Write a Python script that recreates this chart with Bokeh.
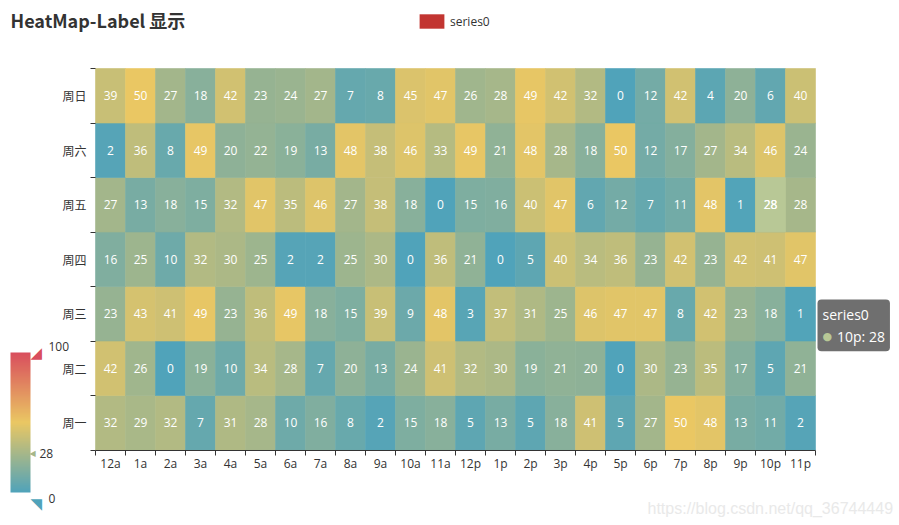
from bokeh.plotting import figure
from bokeh.models import (Range1d, FixedTicker, LinearColorMapper, ColorBar,
                          Label, Legend, LegendItem, ColumnDataSource)
from bokeh.transform import linear_cmap
from bokeh.core.properties import value
from bokeh.embed import file_html
from bokeh.resources import INLINE

# ---------------- data ----------------
hours = ["12a", "1a", "2a", "3a", "4a", "5a", "6a", "7a", "8a", "9a", "10a", "11a",
         "12p", "1p", "2p", "3p", "4p", "5p", "6p", "7p", "8p", "9p", "10p", "11p"]
days = ["周一", "周二", "周三", "周四", "周五", "周六", "周日"]

vals_mon = [32, 29, 32, 7, 31, 28, 10, 16, 8, 2, 15, 18, 5, 13, 5, 18, 41, 5, 27, 50, 48, 13, 11, 2]
vals_tue = [42, 26, 0, 19, 10, 34, 28, 7, 20, 13, 24, 41, 32, 30, 19, 21, 20, 0, 30, 23, 35, 17, 5, 21]
vals_wed = [23, 43, 41, 49, 23, 36, 49, 18, 15, 39, 9, 48, 3, 37, 31, 25, 46, 47, 47, 8, 42, 23, 18, 1]
vals_thu = [16, 25, 10, 32, 30, 25, 2, 2, 25, 30, 0, 36, 21, 0, 5, 40, 34, 36, 23, 42, 23, 42, 41, 47]
vals_fri = [27, 13, 18, 15, 32, 47, 35, 46, 27, 38, 18, 0, 15, 16, 40, 47, 6, 12, 7, 11, 48, 1, 28, 28]
vals_sat = [2, 36, 8, 49, 20, 22, 19, 13, 48, 38, 46, 33, 49, 21, 48, 28, 18, 50, 12, 17, 27, 34, 46, 24]
vals_sun = [39, 50, 27, 18, 42, 23, 24, 27, 7, 8, 45, 47, 26, 28, 49, 42, 32, 0, 12, 42, 4, 20, 6, 40]
rows = [vals_mon, vals_tue, vals_wed, vals_thu, vals_fri, vals_sat, vals_sun]

vmin, vmax = 0, 100
series_name = "series0"
hover_hour, hover_day = "10p", "周五"
watermark = "https://blog.csdn.net/qq_36744449"
title_text = "HeatMap-Label 显示"

# ---------------- styles / layout ----------------
stops = ["#50a3ba", "#eac763", "#d94e5d"]
emph_color = "#b8c896"
legend_color = "#c23531"
axis_color = "#333333"
latin_font = "Open Sans"
cjk_font = "Noto Sans CJK SC"
W, H = 899, 525
GRID_L, GRID_R, GRID_T, GRID_B = 95, 815, 68, 449.5   # pixel box of the heatmap grid


def _rgb(h):
    h = h.lstrip("#")
    return [int(h[i:i + 2], 16) for i in (0, 2, 4)]


def _interp(t):
    t = max(0.0, min(1.0, t)) * (len(stops) - 1)
    seg = min(int(t), len(stops) - 2)
    f = t - seg
    a, b = _rgb(stops[seg]), _rgb(stops[seg + 1])
    return "#%02x%02x%02x" % tuple(round(a[k] + (b[k] - a[k]) * f) for k in range(3))


palette = [_interp(i / 255) for i in range(256)]
mapper = LinearColorMapper(palette=palette, low=vmin, high=vmax)

# ---------------- source ----------------
xs, ys, vs, labels = [], [], [], []
for di, row in enumerate(rows):
    for hi, v in enumerate(row):
        xs.append(hi + 0.5)
        ys.append(di + 0.5)
        vs.append(v)
        labels.append(str(v))
src = ColumnDataSource(dict(x=xs, y=ys, v=vs, label=labels))

hx = hours.index(hover_hour)
hy = days.index(hover_day)
hv = rows[hy][hx]
hsrc = ColumnDataSource(dict(x=[hx + 0.5], y=[hy + 0.5], v=[hv], label=[str(hv)]))

# ---------------- figure (frame = whole canvas) ----------------
nx, ny = len(hours), len(days)
ppx = (GRID_R - GRID_L) / nx
ppy = (GRID_B - GRID_T) / ny
x_range = Range1d(-GRID_L / ppx, nx + (W - GRID_R) / ppx)
y_range = Range1d(-(H - GRID_B) / ppy, ny + GRID_T / ppy)

p = figure(width=W, height=H, x_range=x_range, y_range=y_range,
           output_backend="svg", toolbar_location=None, tools="", min_border=0)
p.outline_line_color = None
p.background_fill_color = "white"
p.border_fill_color = "white"
p.xgrid.visible = False
p.ygrid.visible = False

cmap = linear_cmap("v", palette, vmin, vmax)
p.rect(x="x", y="y", width=1, height=1, source=src, fill_color=cmap, line_color=cmap, line_width=0.6)
p.rect(x="x", y="y", width=1, height=1, source=hsrc, fill_color=emph_color, line_color=emph_color, line_width=0.6)
for s in (src, hsrc):
    p.text(x="x", y="y", text="label", source=s, text_align="center", text_baseline="middle",
           text_color="white", text_font_size="12px", text_font=value(latin_font))

# axes drawn at fixed locations inside the frame
xc = [i + 0.5 for i in range(nx)]
p.xaxis.ticker = FixedTicker(ticks=xc, minor_ticks=list(range(nx + 1)))
p.xaxis.major_label_overrides = {c: h for c, h in zip(xc, hours)}
yc = [i + 0.5 for i in range(ny)]
p.yaxis.ticker = FixedTicker(ticks=yc, minor_ticks=list(range(ny + 1)))
p.yaxis.major_label_overrides = {c: d for c, d in zip(yc, days)}
p.xaxis.fixed_location = 0
p.yaxis.fixed_location = 0
p.xaxis.bounds = (0, nx)
p.yaxis.bounds = (0, ny)
for ax in (p.xaxis[0], p.yaxis[0]):
    ax.major_tick_line_color = None
    ax.major_tick_out = 0
    ax.major_tick_in = 0
    ax.minor_tick_line_color = axis_color
    ax.minor_tick_out = 5
    ax.minor_tick_in = 0
    ax.major_label_text_color = axis_color
    ax.major_label_text_font_size = "12px"
p.xaxis.axis_line_color = axis_color
p.xaxis.major_label_text_font = latin_font
p.xaxis.major_label_standoff = 0
p.yaxis.axis_line_color = None
p.yaxis.major_label_text_font = cjk_font
p.yaxis.major_label_standoff = 4


def sx(px):
    return px


def sy(py):
    return H - py


# title
p.add_layout(Label(x=sx(10), y=sy(19.5), x_units="screen", y_units="screen", text=title_text,
                   text_font=cjk_font, text_font_size="18px", text_font_style="bold",
                   text_color=axis_color, text_baseline="alphabetic"))

# legend (icon renderer holds a single placeholder row so the legend can draw its swatch)
leg_src = ColumnDataSource(dict(x=[float("nan")], y=[float("nan")]))
leg_r = p.rect(x="x", y="y", width=1, height=1, source=leg_src,
               fill_color=legend_color, line_color=None)
legend = Legend(items=[LegendItem(label=series_name, renderers=[leg_r])],
                location=(sx(416), sy(30)), orientation="horizontal",
                glyph_width=31, glyph_height=18, label_height=18, label_standoff=3,
                padding=0, margin=0, border_line_color=None, background_fill_alpha=0,
                label_text_font_size="12px", label_text_color=axis_color,
                label_text_font=latin_font)
p.add_layout(legend)

# visual map
bar_top, bar_bot = 352, 492
cb = ColorBar(color_mapper=mapper, location=(sx(10), sy(bar_bot)), orientation="vertical",
              width=20, height=bar_bot - bar_top, padding=0, margin=0,
              ticker=FixedTicker(ticks=[]), major_tick_line_color=None,
              major_label_text_font_size="0px", bar_line_color=None,
              border_line_color=None, background_fill_alpha=0)
p.add_layout(cb)
p.add_layout(Label(x=sx(30), y=sy(bar_top), x_units="screen", y_units="screen", text="◢",
                   text_font="DejaVu Sans", text_font_size="15px", text_color=stops[-1],
                   text_baseline="alphabetic"))
p.add_layout(Label(x=sx(30), y=sy(bar_bot + 11), x_units="screen", y_units="screen", text="◥",
                   text_font="DejaVu Sans", text_font_size="15px", text_color=stops[0],
                   text_baseline="alphabetic"))
p.add_layout(Label(x=sx(48), y=sy(bar_top - 6.5), x_units="screen", y_units="screen",
                   text=str(vmax), text_font=latin_font, text_font_size="12px",
                   text_color=axis_color, text_baseline="middle"))
p.add_layout(Label(x=sx(48), y=sy(bar_bot + 6), x_units="screen", y_units="screen",
                   text=str(vmin), text_font=latin_font, text_font_size="12px",
                   text_color=axis_color, text_baseline="middle"))
ind_y = bar_bot - (bar_bot - bar_top) * (hv - vmin) / (vmax - vmin)
ind_color = _interp((hv - vmin) / (vmax - vmin))
p.add_layout(Label(x=sx(29), y=sy(ind_y), x_units="screen", y_units="screen", text="◀",
                   text_font="DejaVu Sans", text_font_size="8px", text_color=ind_color,
                   text_baseline="middle"))
p.add_layout(Label(x=sx(39), y=sy(ind_y), x_units="screen", y_units="screen", text=str(hv),
                   text_font=latin_font, text_font_size="12px", text_color=axis_color,
                   text_baseline="middle"))

# tooltip
tip_text = series_name + "\n" + "\u00a0" * 4 + hover_hour + ": " + str(hv)
p.add_layout(Label(x=sx(817), y=sy(299), x_units="screen", y_units="screen", text=tip_text,
                   text_font=latin_font, text_font_size="14px", text_color="white",
                   text_baseline="top", background_fill_color="#323232",
                   background_fill_alpha=0.7, border_radius=4, padding=5))
p.add_layout(Label(x=sx(822), y=sy(336), x_units="screen", y_units="screen", text="●",
                   text_font="DejaVu Sans", text_font_size="11px", text_color=emph_color,
                   text_baseline="middle"))

# watermark
p.add_layout(Label(x=sx(647), y=sy(508), x_units="screen", y_units="screen", text=watermark,
                   text_font="Liberation Sans", text_font_size="16px", text_color="#e9e9e9",
                   text_baseline="alphabetic"))

open("out.html", "w").write(file_html(p, INLINE))
